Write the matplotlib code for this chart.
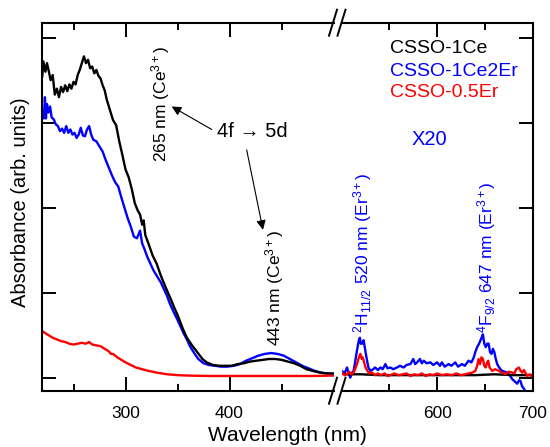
import matplotlib
matplotlib.use("Agg")
import matplotlib.pyplot as plt
from matplotlib.lines import Line2D

plt.rcParams['font.family'] = ['Liberation Sans', 'DejaVu Sans']
plt.rcParams['mathtext.fontset'] = 'custom'
plt.rcParams['mathtext.rm'] = 'Liberation Sans'
plt.rcParams['mathtext.it'] = 'Liberation Sans:italic'
plt.rcParams['mathtext.bf'] = 'Liberation Sans:bold'

# ---- UV range (220-500 nm) ----
uv_nm_ce = [220, 221, 223, 224.5, 226, 228, 230, 232, 234, 236, 238, 240, 242, 244, 246, 248,
            250, 252, 254, 256, 258, 260, 262, 264, 266, 268, 270, 272, 274, 276, 278, 280,
            282, 285, 288, 291, 294, 297, 300, 303, 306, 309, 312, 314, 316, 317.5, 319, 322,
            326, 330, 334, 338, 343, 347, 350, 355, 359, 364, 369, 374, 378, 384, 390, 396,
            402, 408, 414, 420, 426, 432, 438, 444, 450, 456, 462, 468, 474, 480, 487, 493, 500]
uv_abs_ce = [3.55, 3.72, 3.60, 3.70, 3.62, 3.50, 3.56, 3.33, 3.40, 3.30, 3.42, 3.36, 3.44, 3.37, 3.45, 3.40,
             3.48, 3.45, 3.56, 3.62, 3.70, 3.78, 3.70, 3.74, 3.64, 3.66, 3.58, 3.62, 3.55, 3.52, 3.44, 3.38,
             3.27, 3.15, 3.03, 2.97, 2.78, 2.62, 2.45, 2.36, 2.22, 2.05, 1.96, 1.92, 1.80, 1.85, 1.68, 1.58,
             1.44, 1.34, 1.20, 1.08, 0.94, 0.82, 0.74, 0.58, 0.47, 0.38, 0.30, 0.22, 0.18, 0.15, 0.14, 0.14,
             0.14, 0.16, 0.17, 0.19, 0.20, 0.21, 0.22, 0.22, 0.21, 0.19, 0.17, 0.14, 0.10, 0.08, 0.06, 0.05, 0.05]

uv_nm_ceer = [220, 221.5, 222.5, 223.5, 224.5, 226, 227.5, 229, 231, 233, 235, 237, 239, 241, 243, 245,
              247, 249, 251, 253, 255, 257, 259, 261, 263, 265, 267, 269, 272, 275, 278, 281,
              284, 287, 290, 293, 296, 299, 302, 305, 308, 311, 314, 316, 318, 321, 324, 327,
              330, 334, 337, 340, 343, 346, 350, 353, 356, 359, 362, 366, 370, 375, 380, 386,
              392, 398, 404, 410, 416, 422, 428, 434, 440, 446, 452, 458, 464, 470, 476, 482,
              488, 494, 500]
uv_abs_ceer = [3.10, 3.05, 3.30, 3.05, 3.22, 3.12, 3.19, 3.06, 3.04, 2.98, 2.96, 2.90, 2.93, 2.88, 2.96, 2.88,
               2.92, 2.86, 2.88, 2.82, 2.86, 2.94, 2.85, 2.84, 2.92, 2.96, 2.86, 2.80, 2.78, 2.72, 2.66, 2.56,
               2.47, 2.38, 2.30, 2.25, 2.12, 2.00, 1.88, 1.78, 1.66, 1.64, 1.73, 1.58, 1.52, 1.42, 1.34, 1.26,
               1.20, 1.12, 1.04, 0.96, 0.86, 0.78, 0.68, 0.60, 0.52, 0.45, 0.37, 0.29, 0.22, 0.17, 0.15, 0.14,
               0.13, 0.13, 0.14, 0.16, 0.20, 0.23, 0.26, 0.28, 0.29, 0.28, 0.26, 0.22, 0.18, 0.14, 0.11, 0.08,
               0.06, 0.05, 0.04]

uv_nm_er = [220, 222, 226, 230, 234, 238, 242, 246, 250, 254, 258, 262, 265, 268, 272, 276,
            280, 284, 286, 288, 292, 296, 300, 305, 310, 316, 322, 330, 340, 350, 360, 380,
            400, 420, 440, 460, 480, 500]
uv_abs_er = [0.55, 0.53, 0.50, 0.47, 0.45, 0.43, 0.42, 0.40, 0.39, 0.40, 0.41, 0.40, 0.42, 0.39, 0.38, 0.37,
             0.34, 0.31, 0.28, 0.28, 0.24, 0.21, 0.18, 0.15, 0.12, 0.10, 0.08, 0.06, 0.04, 0.03, 0.025, 0.02,
             0.02, 0.02, 0.02, 0.02, 0.02, 0.025]

# ---- visible range (500-700 nm), x20 ----
vis_nm_ce = [500, 505, 520, 540, 560, 600, 640, 660, 680, 700]
vis_abs_ce = [0.05, 0.04, 0.04, 0.03, 0.03, 0.03, 0.03, 0.04, 0.03, 0.03]

vis_nm_ceer = [500, 503, 505.6, 507, 509, 511, 512.5, 514, 516, 518, 519, 520, 521.3, 523, 525, 526.6,
               528, 530, 533, 535, 538, 540.6, 543, 545.8, 548, 551, 554, 558, 561, 565, 568, 572,
               575, 577, 579, 582, 584, 586, 589, 593, 596, 600, 603, 605, 608, 612, 615, 619,
               622, 626, 629, 633, 636, 638.5, 640, 642, 644, 645.5, 647, 648, 649.5, 651, 652.5, 654,
               655.5, 657, 658.5, 660, 661.5, 663, 665, 668, 671, 673.5, 676, 679, 682, 684, 686,
               687.5, 689, 691, 693]
vis_abs_ceer = [0.08, 0.05, 0.12, 0.06, 0.00, 0.06, 0.08, 0.18, 0.32, 0.44, 0.47, 0.40, 0.40, 0.44, 0.30, 0.20,
                0.12, 0.08, 0.10, 0.12, 0.09, 0.12, 0.10, 0.16, 0.11, 0.12, 0.10, 0.12, 0.14, 0.12, 0.15, 0.16,
                0.22, 0.16, 0.18, 0.22, 0.17, 0.20, 0.17, 0.18, 0.15, 0.18, 0.14, 0.18, 0.13, 0.16, 0.14, 0.18,
                0.13, 0.16, 0.14, 0.20, 0.18, 0.24, 0.30, 0.36, 0.40, 0.44, 0.48, 0.51, 0.40, 0.36, 0.40, 0.40,
                0.30, 0.28, 0.34, 0.30, 0.22, 0.16, 0.12, 0.08, 0.07, 0.06, 0.03, -0.02, -0.05, -0.07, -0.03,
                -0.04, -0.10, -0.13, -0.17]

vis_nm_er = [500, 503, 505.6, 508, 510, 512.5, 514, 516, 518, 519.6, 521, 522, 523.5, 525, 527, 529,
             532, 535, 538, 541, 545, 548, 551, 555, 560, 564, 568, 572, 576, 580, 584, 588,
             592, 596, 600, 605, 610, 615.6, 620, 625, 629.5, 633, 637, 640, 642, 643.5, 645, 646.5,
             648, 649.5, 651, 652.5, 653.6, 655, 657.8, 661, 664.8, 668, 671.8, 675, 678.8, 681, 683,
             685.8, 687.5, 689.3, 691, 694.5, 697, 700]
vis_abs_er = [0.06, 0.03, 0.04, 0.07, 0.04, 0.06, 0.10, 0.16, 0.24, 0.28, 0.22, 0.24, 0.18, 0.12, 0.08, 0.05,
              0.06, 0.03, 0.05, 0.03, 0.05, 0.02, 0.03, 0.05, 0.03, 0.04, 0.05, 0.02, 0.04, 0.03, 0.05, 0.02,
              0.04, 0.03, 0.05, 0.03, 0.04, 0.03, 0.05, 0.03, 0.04, 0.05, 0.06, 0.08, 0.14, 0.22, 0.16, 0.24,
              0.22, 0.14, 0.12, 0.18, 0.20, 0.12, 0.08, 0.10, 0.08, 0.06, 0.04, 0.07, 0.06, 0.05, 0.10,
              0.12, 0.08, 0.06, 0.09, 0.02, 0.04, 0.01]

samples = ['CSSO-1Ce', 'CSSO-1Ce2Er', 'CSSO-0.5Er']
colors = ['black', '#0000ff', '#ff0000']

W, H = 550, 447
fig = plt.figure(figsize=(W / 100, H / 100), dpi=100)


def px_rect(x0, x1, y0, y1):
    # pixel box (y measured from top) -> figure fraction rect
    return [x0 / W, 1 - y1 / H, (x1 - x0) / W, (y1 - y0) / H]


top_px, bot_px = 22.7, 390.7
ax_uv = fig.add_axes(px_rect(42.3, 333.5, top_px, bot_px))
ax_vis = fig.add_axes(px_rect(341.7, 532.5, top_px, bot_px))

lw = 1.7
ax_uv.plot(uv_nm_ceer, uv_abs_ceer, color=colors[1], lw=lw)
ax_uv.plot(uv_nm_ce, uv_abs_ce, color=colors[0], lw=lw)
ax_uv.plot(uv_nm_er, uv_abs_er, color=colors[2], lw=lw)
ax_vis.plot(vis_nm_ceer, vis_abs_ceer, color=colors[1], lw=lw)
ax_vis.plot(vis_nm_ce, vis_abs_ce, color=colors[0], lw=lw)
ax_vis.plot(vis_nm_er, vis_abs_er, color=colors[2], lw=lw)

for ax in (ax_uv, ax_vis):
    ax.set_ylim(-0.153, 4.176)
    ax.set_yticks([0, 1, 2, 3, 4])
    for s in ax.spines.values():
        s.set_linewidth(1.5)
    ax.tick_params(which='both', direction='in', top=True, width=1.4,
                   labelleft=False, labelright=False)
    ax.tick_params(which='major', length=10)
    ax.tick_params(which='minor', length=5)
    ax.tick_params(axis='x', labelsize=12.5, pad=11)

ax_uv.set_xlim(220, 500)
ax_uv.set_xticks([300, 400])
ax_uv.set_xticks([250, 350, 450], minor=True)
ax_uv.spines['right'].set_visible(False)
ax_uv.tick_params(axis='y', left=True, right=False)

ax_vis.set_xlim(500, 700)
ax_vis.set_xticks([600, 700])
ax_vis.set_xticks([550, 650], minor=True)
ax_vis.spines['left'].set_visible(False)
ax_vis.tick_params(axis='y', left=False, right=True)

# break marks on top and bottom spines
for xb in (333.0, 341.5):
    for yb in (top_px, bot_px):
        fig.add_artist(Line2D([(xb - 4) / W, (xb + 4) / W],
                              [1 - (yb + 13) / H, 1 - (yb - 13) / H],
                              transform=fig.transFigure, color='black', lw=1.4))

fig.text(287.5 / W, 1 - 441 / H, 'Wavelength (nm)', ha='center', va='baseline', fontsize=15)
fig.text(21 / W, 1 - 202 / H, 'Absorbance (arb. units)', rotation=90,
         ha='center', va='center', fontsize=14.5)

# sample names
for name, c, yv in zip(samples, colors, [3.82, 3.55, 3.30]):
    ax_vis.text(550.7, yv, name, color=c, fontsize=14, ha='left', va='baseline')
ax_vis.text(573.2, 2.74, 'X20', color='#0000ff', fontsize=14.5, ha='left', va='baseline')

# Ce3+ 4f -> 5d bands
ax_uv.text(387.7, 2.835, '4f \u2192 5d', fontsize=14.5, ha='left', va='baseline')
arrow = dict(arrowstyle='-|>', color='black', lw=0.8, mutation_scale=14,
             shrinkA=0, shrinkB=0)
ax_uv.annotate('', xy=(344.4, 3.19), xytext=(382.9, 2.92), arrowprops=arrow)
ax_uv.annotate('', xy=(432.2, 1.74), xytext=(416.5, 2.68), arrowprops=arrow)

rot = dict(rotation=90, rotation_mode='anchor', ha='left', va='baseline', fontsize=12.5)
ax_uv.text(339.6, 2.54, r'265 nm (Ce$^{3+}$)', **rot)
ax_uv.text(449.0, 0.376, r'443 nm (Ce$^{3+}$)', **rot)

# Er3+ lines
ax_vis.text(527.6, 0.526, r'$^{2}$H$_{11/2}$ 520 nm (Er$^{3+}$)', color='#0000ff', **rot)
ax_vis.text(657.7, 0.526, r'$^{4}$F$_{9/2}$ 647 nm (Er$^{3+}$)', color='#0000ff', **rot)

fig.savefig('out.png', dpi=100)
